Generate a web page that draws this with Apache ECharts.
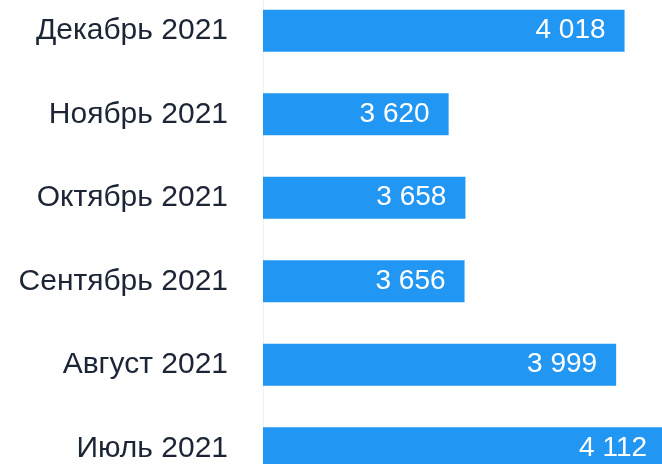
<!DOCTYPE html>
<html>
<head>
<meta charset="utf-8">
<script src="https://cdn.jsdelivr.net/npm/echarts@6/dist/echarts.min.js"></script>
<style>
html,body{margin:0;padding:0;background:#fff;}
#chart{width:662px;height:464px;}
</style>
</head>
<body>
<div id="chart"></div>
<script>
const categories = ['Декабрь 2021', 'Ноябрь 2021', 'Октябрь 2021', 'Сентябрь 2021', 'Август 2021', 'Июль 2021'];
const values = [4018, 3620, 3658, 3656, 3999, 4112];

const chart = echarts.init(document.getElementById('chart'));
chart.setOption({
  animation: false,
  backgroundColor: '#ffffff',
  grid: { left: 263, top: -11, width: 442, height: 501, containLabel: false, outerBoundsMode: 'none' },
  xAxis: {
    type: 'value', min: 3200, max: 4200, show: false,
    splitLine: { show: false }
  },
  yAxis: {
    type: 'category', data: categories, inverse: true,
    axisLine: { show: true, lineStyle: { color: '#f0f0f0', width: 1 } },
    axisTick: { show: false },
    axisLabel: {
      margin: 35, fontSize: 30, color: '#1c2536',
      fontFamily: 'Liberation Sans, Arial, sans-serif'
    }
  },
  series: [{
    type: 'bar', data: values, barWidth: 42,
    itemStyle: { color: '#2196f3' },
    label: {
      show: true, position: 'insideRight', distance: 19,
      color: '#ffffff', fontSize: 28,
      fontFamily: 'Liberation Sans, Arial, sans-serif',
      formatter: p => String(p.value).replace(/\B(?=(\d{3})+(?!\d))/g, ' ')
    }
  }]
});
</script>
</body>
</html>
